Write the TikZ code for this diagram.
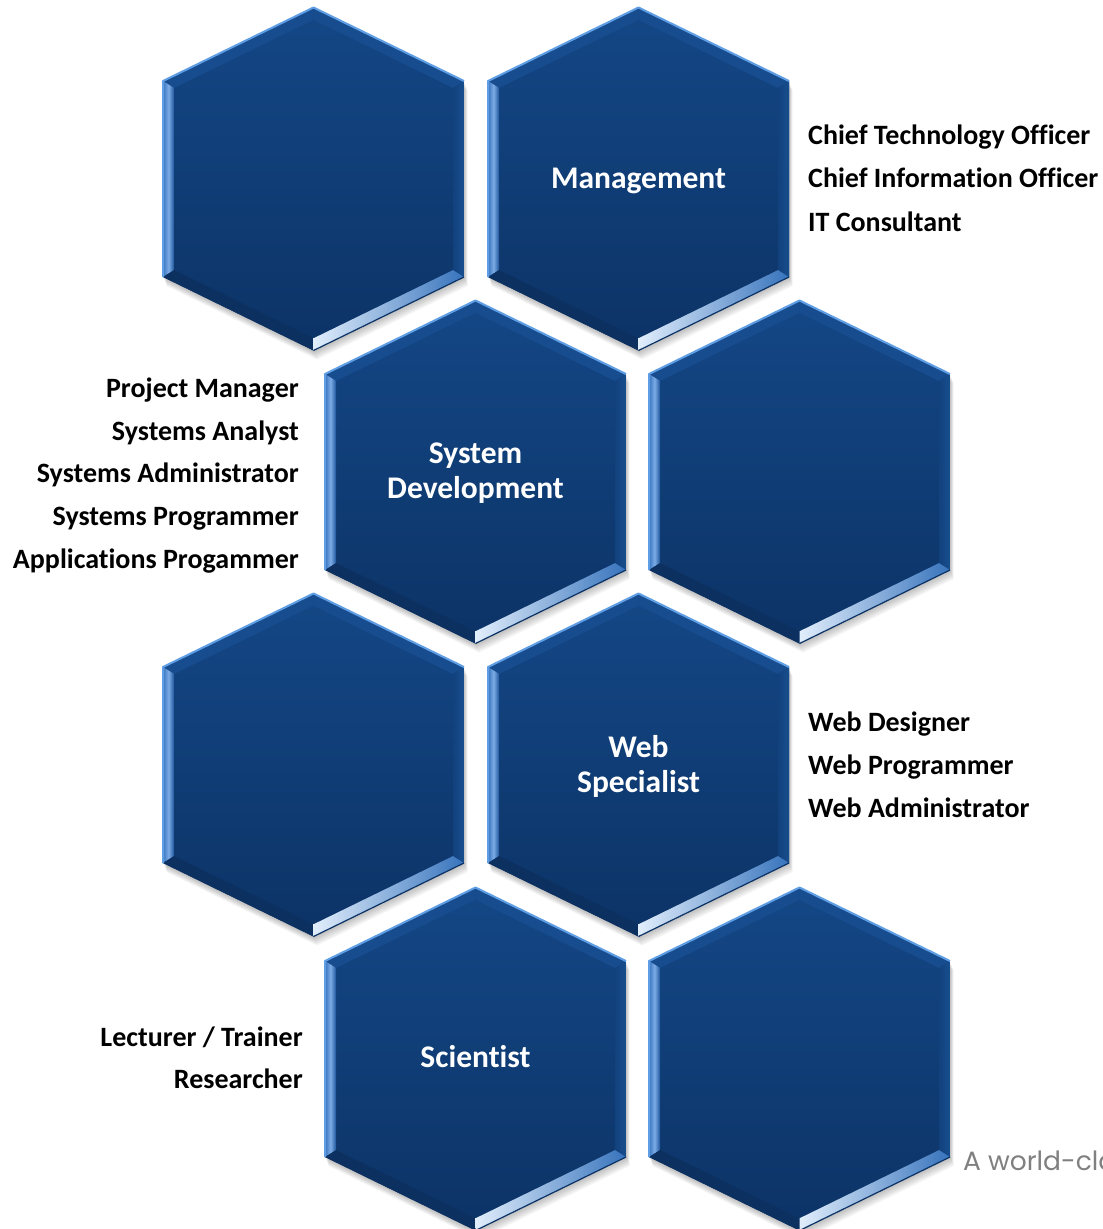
\documentclass[tikz,border=0pt]{standalone}
\usepackage{fontspec}
\setmainfont{Carlito}[Ligatures=NoCommon]
\newfontfamily\gothicfont{Poppins}
\definecolor{hexTop}{RGB}{20,71,134}
\definecolor{hexBot}{RGB}{12,51,102}
\definecolor{bevTop}{RGB}{23,77,143}
\definecolor{edgeLight}{RGB}{95,158,228}
\definecolor{leftOut}{RGB}{55,115,190}
\definecolor{leftMid}{RGB}{125,172,230}
\definecolor{leftIn}{RGB}{30,86,156}
\definecolor{rightA}{RGB}{18,66,126}
\definecolor{rightB}{RGB}{24,78,142}
\definecolor{botLeft}{RGB}{12,48,96}
\definecolor{hiA}{RGB}{225,238,252}
\definecolor{hiB}{RGB}{55,115,188}
\definecolor{grayText}{RGB}{128,128,128}
\tikzset{
  lst/.style={font=\bfseries\fontsize{28}{33}\selectfont, text=black, inner sep=0pt},
  hexlabel/.style={font=\bfseries\fontsize{31.5}{35}\selectfont, text=white, align=center, inner sep=0pt},
}
\newcommand\HexCell[2]{%
\begin{scope}[shift={(#1,#2)}]
  \coordinate (T) at (0,-171.5);
  \coordinate (UR) at (150.5,-98);
  \coordinate (LR) at (150.5,98);
  \coordinate (B) at (0,171.5);
  \coordinate (LL) at (-150.5,98);
  \coordinate (UL) at (-150.5,-98);
  \coordinate (iT) at (0,-159.3);
  \coordinate (iUR) at (139.5,-91.1);
  \coordinate (iLR) at (139.5,91.1);
  \coordinate (iB) at (0,159.3);
  \coordinate (iLL) at (-139.5,91.1);
  \coordinate (iUL) at (-139.5,-91.1);
  \foreach \k in {1,...,6}{%
    \fill[black,opacity=0.045]
      ([shift={(0.6*\k,1.5*\k)}]T) -- ([shift={(0.6*\k,1.5*\k)}]UR) --
      ([shift={(0.6*\k,1.5*\k)}]LR) -- ([shift={(0.6*\k,1.5*\k)}]B) --
      ([shift={(0.6*\k,1.5*\k)}]LL) -- ([shift={(0.6*\k,1.5*\k)}]UL) -- cycle;}
  \shade[top color=hexTop,bottom color=hexBot] (T)--(UR)--(LR)--(B)--(LL)--(UL)--cycle;
  \fill[bevTop] (UL)--(T)--(iT)--(iUL)--cycle;
  \fill[bevTop] (T)--(UR)--(iUR)--(iT)--cycle;
  \shade[left color=rightA,right color=rightB] (UR)--(LR)--(iLR)--(iUR)--cycle;
  \shade[left color=leftOut,right color=leftIn,middle color=leftMid] (LL)--(UL)--(iUL)--(iLL)--cycle;
  \fill[botLeft] (B)--(LL)--(iLL)--(iB)--cycle;
  \shade[left color=hiA,right color=hiB] (LR)--(B)--(iB)--(iLR)--cycle;
  \draw[hexBot,line width=1.2pt] (LR)--(B);
  \draw[edgeLight,line width=2pt,line join=round] (LL)--(UL)--(T)--(UR);
\end{scope}}
\begin{document}
\begin{tikzpicture}[x=1pt,y=-1pt]
  \fill[white] (0,0) rectangle (1103,1229);
  \useasboundingbox (0,0) rectangle (1103,1229);
  \begin{scope}
  \clip (0,0) rectangle (1103,1229);
  \HexCell{313.5}{179}
  \HexCell{638.5}{179}
  \HexCell{475.5}{472}
  \HexCell{799.5}{472}
  \HexCell{313.5}{765}
  \HexCell{638.5}{765}
  \HexCell{475.5}{1059}
  \HexCell{799.5}{1059}
  \node[anchor=base west, inner sep=0pt, font=\gothicfont\fontsize{26.5}{31}\selectfont, text=grayText] (tagline) at (963,1170) {A world-class};
  \end{scope}
  % hexagon labels
  \node[hexlabel, anchor=base] (management) at (638.5,188) {Management};
  \node[hexlabel, anchor=base] (sysdev) at (475.5,498) {System\\Development};
  \node[hexlabel, anchor=base] (webspec) at (638.5,792) {Web\\Specialist};
  \node[hexlabel, anchor=base] (scientist) at (475.5,1067) {Scientist};
  % management roles
  \node[lst, anchor=base west] (cto) at (808,144) {Chief Technology Officer};
  \node[lst, anchor=base west] (cio) at (808,187.5) {Chief Information Officer};
  \node[lst, anchor=base west] (itc) at (808,231) {IT Consultant};
  % system development roles
  \node[lst, anchor=base east] (pm) at (299,397) {Project Manager};
  \node[lst, anchor=base east] (sa) at (299,440) {Systems Analyst};
  \node[lst, anchor=base east] (sadm) at (299,482.5) {Systems Administrator};
  \node[lst, anchor=base east] (sp) at (299,525) {Systems Programmer};
  \node[lst, anchor=base east] (ap) at (299,568) {Applications Progammer};
  % web roles
  \node[lst, anchor=base west] (wd) at (808,731) {Web Designer};
  \node[lst, anchor=base west] (wp) at (808,774) {Web Programmer};
  \node[lst, anchor=base west] (wa) at (808,817) {Web Administrator};
  % scientist roles
  \node[lst, anchor=base east] (lt) at (303,1046) {Lecturer / Trainer};
  \node[lst, anchor=base east] (rs) at (303,1088) {Researcher};
\end{tikzpicture}
\end{document}
